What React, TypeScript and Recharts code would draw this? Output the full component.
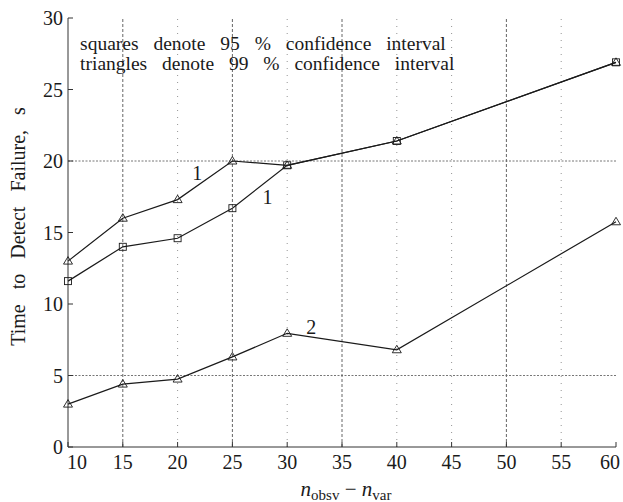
import { LineChart, Line, XAxis, YAxis, ReferenceLine, ReferenceDot } from "recharts";

const xValues = [10, 15, 20, 25, 30, 40, 60];
const upperTriangles = [13.0, 16.0, 17.3, 20.0, 19.7, 21.4, 26.9];
const upperSquares = [11.6, 14.0, 14.6, 16.7, 19.7, 21.4, 26.9];
const lowerTriangles = [3.0, 4.4, 4.75, 6.3, 7.95, 6.8, 15.75];

const xTicks = [10, 15, 20, 25, 30, 35, 40, 45, 50, 55, 60];
const yTicks = [0, 5, 10, 15, 20, 25, 30];
const darkGridX = [15, 25, 35, 50];
const lightGridX = [20, 30, 40, 45, 55];
const gridY = [5, 20];

const notes = [
  "squares denote 95 % confidence interval",
  "triangles denote 99 % confidence interval",
];
const curveLabels = [
  { x: 21.8, y: 19.2, text: "1" },
  { x: 28.2, y: 17.5, text: "1" },
  { x: 32.2, y: 8.4, text: "2" },
];

const data = xValues.map((x, i) => ({
  x,
  tri1: upperTriangles[i],
  sq1: upperSquares[i],
  tri2: lowerTriangles[i],
}));

const FONT = "'Liberation Serif', 'DejaVu Serif', serif";
const INK = "#1a1a1a";
const serif = { fontFamily: FONT };

const Triangle = (p: any) => {
  const { cx, cy } = p;
  if (cx == null || cy == null) return <g key={p.key} />;
  return (
    <path
      key={p.key}
      d={`M${cx},${cy - 4.5} L${cx + 4.5},${cy + 3} L${cx - 4.5},${cy + 3} Z`}
      fill="none"
      stroke={INK}
      strokeWidth={0.9}
    />
  );
};

const Square = (p: any) => {
  const { cx, cy } = p;
  if (cx == null || cy == null) return <g key={p.key} />;
  return <rect key={p.key} x={cx - 3.5} y={cy - 3.5} width={7} height={7} fill="none" stroke={INK} strokeWidth={0.9} />;
};

// first and last x labels nudged inward so they stay on the page
const XTick = (p: any) => {
  const v = p.payload.value;
  const shift = v === 10 ? 9 : v === 60 ? -5 : 0;
  return (
    <text x={p.x + shift} y={p.y} dy="0.71em" textAnchor="middle" fontSize={20} style={serif} fill={INK}>
      {v}
    </text>
  );
};

const YTick = (p: any) => (
  <text x={p.x} y={p.y} dy="0.35em" textAnchor="end" fontSize={20} style={serif} fill={INK}>
    {p.payload.value}
  </text>
);

const XLabel = (p: any) => {
  const vb = p.viewBox;
  const cx = vb.x + vb.width / 2 + 4;
  const y = vb.y + 49;
  return (
    <text x={cx} y={y} textAnchor="middle" style={serif} fill={INK} fontSize={21}>
      <tspan fontStyle="italic">n</tspan>
      <tspan fontSize={15} dy={4}>obsv</tspan>
      <tspan dy={-4}> − </tspan>
      <tspan fontStyle="italic">n</tspan>
      <tspan fontSize={15} dy={4}>var</tspan>
    </text>
  );
};

const YLabel = (p: any) => {
  const vb = p.viewBox;
  const x = 25;
  const y = vb.y + vb.height / 2 - 6;
  return (
    <text
      x={x}
      y={y}
      transform={`rotate(-90 ${x} ${y})`}
      textAnchor="middle"
      style={{ ...serif, wordSpacing: 10 }}
      fill={INK}
      fontSize={20}
    >
      Time to Detect Failure, s
    </text>
  );
};

const NoteText = (p: any) => {
  const vb = p.viewBox;
  return (
    <g style={{ ...serif, wordSpacing: 10 }} fill={INK} fontSize={19.5}>
      <text x={vb.x} y={vb.y + 5}>{notes[0]}</text>
      <text x={vb.x} y={vb.y + 24.5}>{notes[1]}</text>
    </g>
  );
};

export default function App() {
  return (
    <div style={{ position: "absolute", left: 0, top: 0, width: 623, height: 502, background: "#fff" }}>
      <LineChart width={623} height={502} data={data} margin={{ top: 18, right: 7, left: 0, bottom: 0 }}>
        <XAxis
          xAxisId="main"
          dataKey="x"
          type="number"
          domain={[10, 60]}
          ticks={xTicks}
          height={55}
          tickSize={-5}
          tickMargin={13}
          tick={XTick}
          stroke="#333"
          label={XLabel}
        />
        <XAxis
          xAxisId="top"
          orientation="top"
          dataKey="x"
          type="number"
          domain={[10, 60]}
          ticks={xTicks}
          height={0}
          tickSize={-5}
          tickFormatter={() => ""}
          stroke="#333"
        />
        <YAxis
          yAxisId="main"
          type="number"
          domain={[0, 30]}
          ticks={yTicks}
          width={68}
          tickSize={-5}
          tickMargin={10}
          tick={YTick}
          stroke="#333"
          label={YLabel}
        />
        <YAxis
          yAxisId="right"
          orientation="right"
          type="number"
          domain={[0, 30]}
          ticks={yTicks}
          width={0}
          tickSize={-5}
          tickFormatter={() => ""}
          stroke="#333"
        />
        {darkGridX.map((v) => (
          <ReferenceLine key={"d" + v} xAxisId="main" yAxisId="main" x={v} stroke="#555" strokeWidth={0.9} strokeDasharray="3 2" />
        ))}
        {lightGridX.map((v) => (
          <ReferenceLine key={"l" + v} xAxisId="main" yAxisId="main" x={v} stroke="#888" strokeWidth={0.9} strokeDasharray="1 6" />
        ))}
        {gridY.map((v) => (
          <ReferenceLine key={"h" + v} xAxisId="main" yAxisId="main" y={v} stroke="#666" strokeWidth={0.9} strokeDasharray="2 1.5" />
        ))}
        <Line xAxisId="main" yAxisId="main" dataKey="tri1" stroke={INK} strokeWidth={1.2} dot={Triangle} isAnimationActive={false} />
        <Line xAxisId="main" yAxisId="main" dataKey="sq1" stroke={INK} strokeWidth={1.2} dot={Square} isAnimationActive={false} />
        <Line xAxisId="main" yAxisId="main" dataKey="tri2" stroke={INK} strokeWidth={1.2} dot={Triangle} isAnimationActive={false} />
        {curveLabels.map((c, i) => (
          <ReferenceDot
            key={"c" + i}
            xAxisId="main"
            yAxisId="main"
            x={c.x}
            y={c.y}
            r={0}
            fill="none"
            stroke="none"
            label={{ value: c.text, position: "center", fontSize: 20, style: serif, fill: INK }}
          />
        ))}
        <ReferenceDot xAxisId="main" yAxisId="main" x={11.1} y={28.1} r={0} fill="none" stroke="none" label={NoteText} />
      </LineChart>
    </div>
  );
}
